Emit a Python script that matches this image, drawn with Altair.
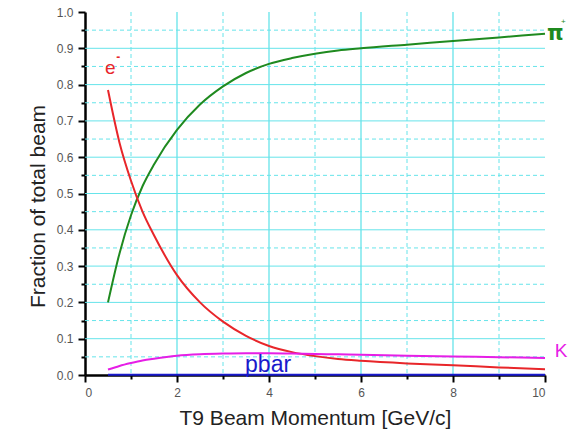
import altair as alt
import pandas as pd

# Beam momentum sample points [GeV/c]
momentum = [0.5, 0.75, 1, 1.25, 1.5, 2, 2.5, 3, 3.5, 4, 4.5, 5, 5.5, 6, 7, 8, 9, 10]
pi_frac = [0.20, 0.335, 0.44, 0.52, 0.58, 0.675, 0.745, 0.795, 0.832, 0.857, 0.873, 0.885,
           0.894, 0.90, 0.91, 0.92, 0.93, 0.94]
e_frac = [0.785, 0.64, 0.535, 0.45, 0.385, 0.275, 0.20, 0.147, 0.108, 0.080, 0.063, 0.052,
          0.044, 0.039, 0.032, 0.027, 0.021, 0.016]
k_frac = [0.015, 0.025, 0.033, 0.040, 0.045, 0.053, 0.057, 0.059, 0.060, 0.060, 0.059, 0.058,
          0.057, 0.056, 0.053, 0.051, 0.049, 0.047]
pbar_frac = [0.001, 0.001, 0.001, 0.001, 0.001, 0.001, 0.001, 0.001, 0.001, 0.001, 0.001,
             0.001, 0.001, 0.001, 0.001, 0.001, 0.001, 0.001]

species = ["pi", "e", "K", "pbar"]
colors = ["#1f8a1f", "#e8262a", "#e61ee6", "#1a1acc"]
widths = [2, 2, 2, 3.5]

x_ticks = [0, 1, 2, 3, 4, 5, 6, 7, 8, 9, 10]
y_ticks = [round(i * 0.05, 2) for i in range(21)]
x_grid_major = [2, 4, 6, 8]
x_grid_minor = [1, 3, 5, 7, 9]
y_grid_major = [0.1, 0.2, 0.3, 0.4, 0.5, 0.6, 0.7, 0.8, 0.9]
y_grid_minor = [0.05, 0.15, 0.25, 0.35, 0.45, 0.55, 0.65, 0.75, 0.85, 0.95]

# Annotation labels
lab_text = ["e", "K", "pbar"]
lab_x = [0.55, 10.35, 3.98]
lab_y = [0.845, 0.065, 0.027]
lab_size = [19, 19, 23]
lab_color = ["#e8262a", "#e61ee6", "#1a1acc"]

rows = []
for name, vals in zip(species, [pi_frac, e_frac, k_frac, pbar_frac]):
    for m, v in zip(momentum, vals):
        rows.append({"species": name, "p": m, "frac": v})
df = pd.DataFrame(rows)

labels = pd.DataFrame({"t": lab_text, "p": lab_x, "frac": lab_y, "c": lab_color, "s": lab_size})

FONT = "Liberation Sans"
W, H = 460, 363
GRID = "#66e4ea"

xscale = alt.Scale(domain=[0, 10], nice=False, zero=False)
yscale = alt.Scale(domain=[0, 1], nice=False)

xaxis = alt.Axis(
    values=x_ticks,
    labelExpr="datum.value % 2 == 0 ? datum.label : ''",
    title="T9 Beam Momentum [GeV/c]",
    titleFont=FONT, titleFontSize=21, titleFontWeight="normal", titleColor="#222",
    titlePadding=9,
    labelFont=FONT, labelFontSize=12, labelColor="#555", labelPadding=5,
    domainColor="black", domainWidth=2.5,
    tickColor="black", tickWidth=2,
    tickSize={"condition": {"test": "datum.value % 2 == 1", "value": 4}, "value": 7},
    grid=False,
)
yaxis = alt.Axis(
    values=y_ticks,
    format=".1f",
    labelExpr="round(datum.value * 20) % 2 == 1 ? '' : datum.label",
    title="Fraction of total beam",
    titleFont=FONT, titleFontSize=21, titleFontWeight="normal", titleColor="#222",
    titlePadding=8, titleY=194,
    labelFont=FONT, labelFontSize=12, labelColor="#555", labelPadding=5,
    domainColor="black", domainWidth=2.5,
    tickColor="black", tickWidth=2,
    tickSize={"condition": {"test": "round(datum.value * 20) % 2 == 1", "value": 4}, "value": 7},
    grid=False,
)

X = alt.X("p:Q", scale=xscale, axis=xaxis)
Y = alt.Y("frac:Q", scale=yscale, axis=yaxis)

vmaj = alt.Chart(pd.DataFrame({"p": x_grid_major})).mark_rule(color=GRID, strokeWidth=1.3).encode(
    x=X, y=alt.value(0), y2=alt.value(H))
vmin = alt.Chart(pd.DataFrame({"p": x_grid_minor})).mark_rule(color=GRID, strokeWidth=1, strokeDash=[4, 3]).encode(
    x=X, y=alt.value(0), y2=alt.value(H))
hmaj = alt.Chart(pd.DataFrame({"frac": y_grid_major})).mark_rule(color=GRID, strokeWidth=1).encode(
    y=Y, x=alt.value(0), x2=alt.value(W))
hmin = alt.Chart(pd.DataFrame({"frac": y_grid_minor})).mark_rule(color=GRID, strokeWidth=1, strokeDash=[4, 3]).encode(
    y=Y, x=alt.value(0), x2=alt.value(W))

lines = alt.Chart(df).mark_line(interpolate="monotone").encode(
    x=X, y=Y,
    color=alt.Color("species:N", scale=alt.Scale(domain=species, range=colors), legend=None),
    strokeWidth=alt.StrokeWidth("species:N", scale=alt.Scale(domain=species, range=widths), legend=None),
    detail="species:N",
)

text = alt.Chart(labels).mark_text(font=FONT, align="center", baseline="middle").encode(
    x=X, y=Y,
    text="t:N",
    color=alt.Color("c:N", scale=None),
    size=alt.Size("s:Q", scale=None),
)

sup_e = alt.Chart(pd.DataFrame({"p": [lab_x[0]], "frac": [lab_y[0]]})).mark_text(
    font=FONT, fontSize=12, fontWeight="bold", color="#e8262a", dx=8, dy=-11
).encode(x=X, y=Y, text=alt.value("-"))

pi_lab = alt.Chart(pd.DataFrame({"p": [10.0], "frac": [0.94]})).mark_text(
    font="DejaVu Sans", fontSize=21, fontWeight="bold", color="#1f8a1f", align="left", baseline="middle", dx=2
).encode(x=X, y=Y, text=alt.value("π"))

pi_sup = alt.Chart(pd.DataFrame({"p": [10.0], "frac": [0.94]})).mark_text(
    font=FONT, fontSize=8, color="#1f8a1f", align="left", baseline="middle", dx=16, dy=-12
).encode(x=X, y=Y, text=alt.value("+"))

chart = alt.layer(vmin, vmaj, hmin, hmaj, lines, text, sup_e, pi_lab, pi_sup).properties(
    width=W, height=H,
    autosize=alt.AutoSizeParams(type="none"),
    padding={"left": 85, "top": 12, "right": 23, "bottom": 62},
    background="white",
).configure_view(stroke=None)

chart.save("out.html", embed_options={"renderer": "svg", "actions": False})
